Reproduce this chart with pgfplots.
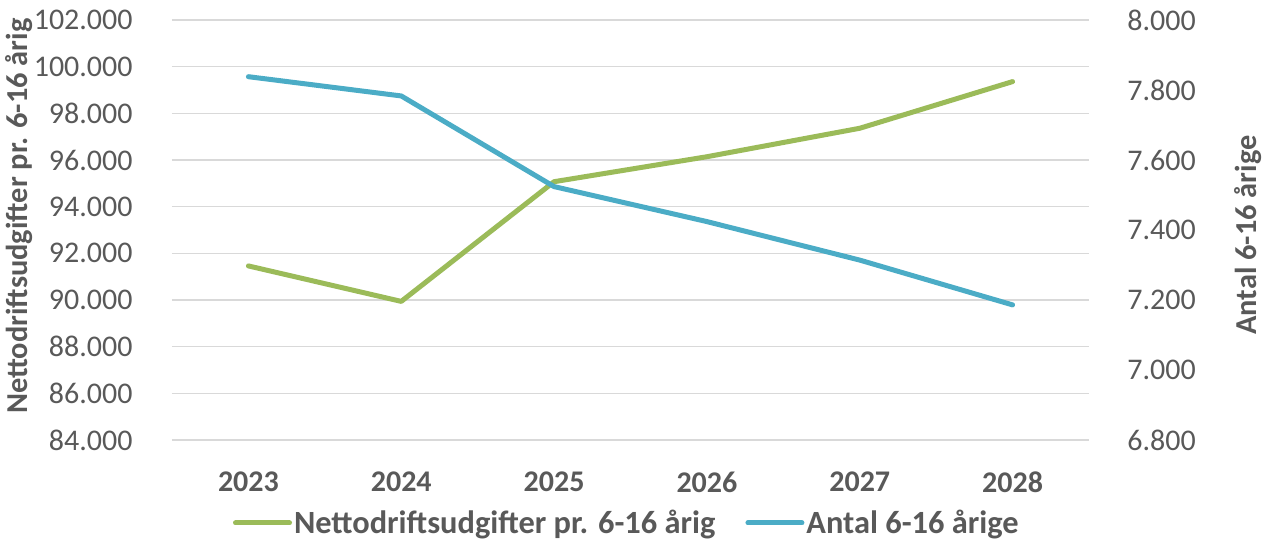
\documentclass[border=0pt]{standalone}
\usepackage{fontspec}
\setmainfont{Carlito}
\usepackage{pgfplots}
\pgfplotsset{compat=1.18}
\definecolor{cgreen}{HTML}{9BBB59}
\definecolor{cblue}{HTML}{4BACC6}
\definecolor{ctext}{HTML}{595959}
\definecolor{cgrid}{HTML}{D9D9D9}
\begin{document}
\begin{tikzpicture}
\path[use as bounding box] (-86pt,-49.5pt) rectangle (550pt,220pt);
\pgfplotsset{
  every axis/.append style={
    scale only axis, width=458.5pt, height=210pt,
    xmin=-0.5, xmax=5.5,
    axis line style={draw=none},
    major tick length=0pt,
    scaled y ticks=false,
    /pgf/number format/assume math mode=true,
    /pgf/number format/.cd, fixed, precision=0, 1000 sep={.},
  },
}
\begin{axis}[
  ymin=84000, ymax=102000,
  ytick={84000,86000,88000,90000,92000,94000,96000,98000,100000,102000},
  xtick={0,1,2,3,4,5},
  xticklabels={2023,2024,2025,2026,2027,2028},
  ymajorgrids, grid style={cgrid, line width=0.8pt},
  tick label style={font=\fontsize{15}{18}\selectfont, text=ctext},
  xticklabel style={font=\fontsize{15}{18}\selectfont\bfseries, anchor=center, yshift=-21pt},
  yticklabel style={anchor=east, inner sep=0pt, xshift=-19.5pt},
  ylabel={Nettodriftsudgifter pr. 6-16 årig},
  ylabel style={at={(axis description cs:-0.1669,0.533)}, anchor=center, font=\fontsize{15.2}{18}\selectfont\bfseries, text=ctext},
  legend style={at={(axis description cs:0.496,-0.1976)}, anchor=center, draw=none, fill=none,
    font=\fontsize{16.2}{19}\selectfont\bfseries, text=ctext, legend columns=2,
    nodes={inner xsep=1pt},
    /tikz/every even column/.append style={column sep=14pt}},
  legend image code/.code={\draw[#1, line cap=round] (0pt,0pt) -- (27pt,0pt);},
]
\addplot[cgreen, line width=2.5pt, line cap=round, line join=round] coordinates {
  (0,91460) (1,89940) (2,95070) (3,96140) (4,97360) (5,99360)};
\addlegendentry{Nettodriftsudgifter pr. 6-16 årig}
\addlegendimage{cblue, line width=2.5pt}
\addlegendentry{Antal 6-16 årige}
\end{axis}
\begin{axis}[
  axis x line=none,
  axis y line*=right,
  ymin=6800, ymax=8000,
  ytick={6800,7000,7200,7400,7600,7800,8000},
  yticklabel style={anchor=west, inner sep=0pt, xshift=19pt, font=\fontsize{15}{18}\selectfont, text=ctext},
  ylabel={Antal 6-16 årige},
  ylabel style={at={(axis description cs:1.1734,0.488)}, anchor=center, font=\fontsize{15.2}{18}\selectfont\bfseries, text=ctext},
]
\addplot[cblue, line width=2.5pt, line cap=round, line join=round] coordinates {
  (0,7838) (1,7783) (2,7524) (3,7424) (4,7314) (5,7186)};
\end{axis}
\end{tikzpicture}
\end{document}
